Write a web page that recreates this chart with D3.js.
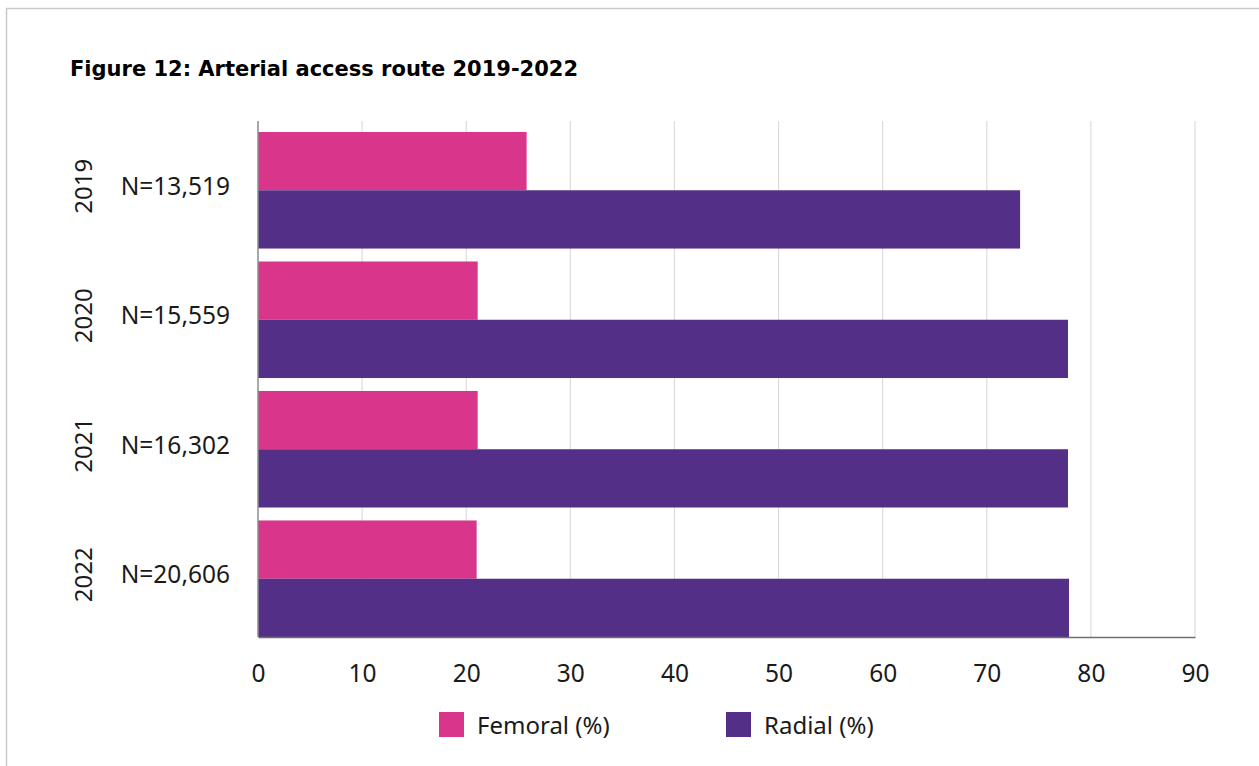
<!DOCTYPE html>
<html>
<head>
<meta charset="utf-8">
<script src="https://cdn.jsdelivr.net/npm/d3@7"></script>
<style>
  html, body { margin: 0; padding: 0; background: #fff; }
  svg { display: block; }
  text { font-family: "Noto Sans", "Liberation Sans", sans-serif; fill: #1a1a1a; }
</style>
</head>
<body>
<svg id="chart" width="1259" height="766"></svg>
<script>
// Arterial access route by year (percent of procedures)
const years = ["2019", "2020", "2021", "2022"];
const counts = ["N=13,519", "N=15,559", "N=16,302", "N=20,606"];
const femoral = [25.8, 21.1, 21.1, 21.0];
const radial = [73.2, 77.8, 77.8, 77.9];
const seriesNames = ["Femoral (%)", "Radial (%)"];
const seriesColors = ["#d9368b", "#542f87"];
const xTicks = [0, 10, 20, 30, 40, 50, 60, 70, 80, 90];

const svg = d3.select("#chart");

// Panel frame
svg.append("rect")
  .attr("x", 6.5).attr("y", 8.5)
  .attr("width", 1400).attr("height", 900)
  .attr("fill", "none")
  .attr("stroke", "#c9c9c9")
  .attr("stroke-width", 1.5);

// Title
svg.append("text")
  .attr("x", 70).attr("y", 76)
  .style("font-family", "'DejaVu Sans', sans-serif")
  .style("font-weight", "700")
  .style("font-size", "21px")
  .style("fill", "#000")
  .text("Figure 12: Arterial access route 2019-2022");

const plotLeft = 258, plotRight = 1195, plotTop = 121, plotBottom = 637;

const x = d3.scaleLinear().domain([0, 90]).range([plotLeft, plotRight]);
const y = d3.scaleBand().domain(years).range([132, plotBottom]).paddingInner(0.1).paddingOuter(0);
const sub = d3.scaleBand().domain([0, 1]).range([0, y.bandwidth()]);

// Vertical gridlines
svg.append("g")
  .selectAll("line")
  .data(xTicks.filter(d => d > 0))
  .join("line")
  .attr("x1", d => x(d)).attr("x2", d => x(d))
  .attr("y1", plotTop).attr("y2", plotBottom)
  .attr("stroke", "#dcdcdc")
  .attr("stroke-width", 1.2);

// Bars
const rows = years.map((yr, i) => ({ yr, values: [femoral[i], radial[i]] }));
const groups = svg.append("g")
  .selectAll("g")
  .data(rows)
  .join("g")
  .attr("transform", d => `translate(0,${y(d.yr)})`);

groups.selectAll("rect")
  .data(d => d.values.map((v, k) => ({ v, k })))
  .join("rect")
  .attr("x", x(0))
  .attr("y", d => sub(d.k))
  .attr("width", d => x(d.v) - x(0))
  .attr("height", sub.bandwidth())
  .attr("fill", d => seriesColors[d.k]);

// Bottom axis
const xAxis = d3.axisBottom(x).tickValues(xTicks).tickSize(0).tickPadding(0).tickFormat(d3.format("d"));
const gx = svg.append("g").attr("transform", `translate(0,${plotBottom})`).call(xAxis);
gx.select(".domain").attr("stroke", "#6e6e6e").attr("stroke-width", 1.5);
gx.selectAll("text")
  .attr("y", 45).attr("dy", null)
  .style("font-size", "24.5px")
  .style("fill", "#1a1a1a")
  .style("font-family", "'Noto Sans', sans-serif");

// Left axis line
const yAxis = d3.axisLeft(y).tickSize(0).tickFormat("");
const gy = svg.append("g").attr("transform", `translate(${plotLeft},0)`).call(yAxis);
gy.select(".domain").attr("d", `M0,${plotTop}V${plotBottom}`).attr("stroke", "#8c8c8c").attr("stroke-width", 1.5);

// Category labels: year (rotated) and sample size
const labels = svg.append("g");
labels.selectAll("text.year")
  .data(years)
  .join("text")
  .attr("class", "year")
  .attr("transform", d => `translate(92,${y(d) + y.bandwidth() / 2 - 4}) rotate(-90)`)
  .attr("text-anchor", "middle")
  .style("font-size", "24px")
  .text(d => d);

labels.selectAll("text.count")
  .data(years)
  .join("text")
  .attr("class", "count")
  .attr("x", 230)
  .attr("y", d => y(d) + y.bandwidth() / 2 + 4.5)
  .attr("text-anchor", "end")
  .style("font-size", "24.5px")
  .text((d, i) => counts[i]);

// Legend
const legendX = [439, 726];
const legend = svg.append("g")
  .selectAll("g")
  .data(seriesNames)
  .join("g")
  .attr("transform", (d, i) => `translate(${legendX[i]},712)`);
legend.append("rect")
  .attr("width", 25).attr("height", 25)
  .attr("fill", (d, i) => seriesColors[i]);
legend.append("text")
  .attr("x", 38).attr("y", 22)
  .style("font-size", "24px")
  .text(d => d);
</script>
</body>
</html>
